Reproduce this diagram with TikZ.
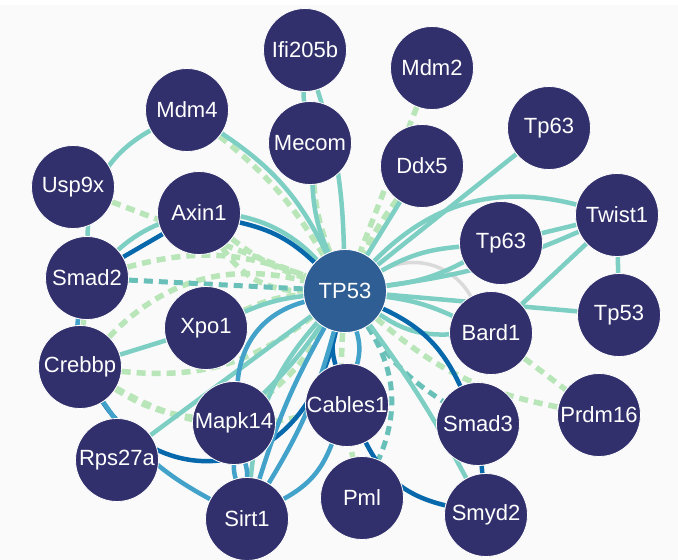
\documentclass[tikz,border=0pt]{standalone}
\usepackage{fontspec}
\setmainfont{Liberation Sans}
\usepackage{xcolor}
\usetikzlibrary{positioning}

\definecolor{genenavy}{RGB}{49,48,108}
\definecolor{hubblue}{RGB}{46,94,147}
\definecolor{tealline}{RGB}{125,207,196}
\definecolor{tealdash}{RGB}{104,192,184}
\definecolor{greendash}{RGB}{185,230,185}
\definecolor{darkline}{RGB}{8,104,172}
\definecolor{midline}{RGB}{67,162,202}
\definecolor{greyline}{RGB}{218,218,218}
\definecolor{paper}{RGB}{250,250,250}

\pgfdeclarelayer{back}
\pgfdeclarelayer{edges}
\pgfsetlayers{back,edges,main}

\begin{document}
\begin{tikzpicture}[x=1pt, y=-1pt,
    gene/.style={circle, draw=white, line width=0.8pt, fill=genenavy, minimum size=83pt, inner sep=0pt,
        text=white, font=\fontsize{22}{25}\selectfont},
    hub/.style={gene, fill=hubblue},
    teal/.style={draw=tealline, line width=4.5pt},
    tdash/.style={draw=tealdash, line width=5pt, dash pattern=on 9pt off 6pt},
    gdash/.style={draw=greendash, line width=5.5pt, dash pattern=on 9pt off 6pt},
    dblue/.style={draw=darkline, line width=4.5pt},
    mblue/.style={draw=midline, line width=4.5pt},
    grey/.style={draw=greyline, line width=3.5pt}]

    \useasboundingbox (0,0) rectangle (678,560);
    \begin{pgfonlayer}{back}
        \fill[paper] (0,5) rectangle (678,560);
    \end{pgfonlayer}

    % genes
    \node[hub] (tp53) at (345,291) {TP53};
    \node[gene] (ifi) at (305,50) {Ifi205b};
    \node[gene] (mdm2) at (432,68) {Mdm2};
    \node[gene] (mdm4) at (187,110) {Mdm4};
    \node[gene] (mecom) at (310,143) {Mecom};
    \node[gene] (tp63a) at (549,128) {Tp63};
    \node[gene] (ddx5) at (422,166) {Ddx5};
    \node[gene] (usp9x) at (73,187) {Usp9x};
    \node[gene] (axin1) at (199,213) {Axin1};
    \node[gene] (twist1) at (617,215) {Twist1};
    \node[gene] (tp63b) at (501,243) {Tp63};
    \node[gene] (smad2) at (87,278) {Smad2};
    \node[gene] (tp53r) at (619,315) {Tp53};
    \node[gene] (xpo1) at (206,328) {Xpo1};
    \node[gene] (bard1) at (491,333) {Bard1};
    \node[gene] (crebbp) at (80,367) {Crebbp};
    \node[gene] (cables1) at (347,405) {Cables1};
    \node[gene] (prdm16) at (599,415) {Prdm16};
    \node[gene] (mapk14) at (234,423) {Mapk14};
    \node[gene] (smad3) at (478,424) {Smad3};
    \node[gene] (rps27a) at (117,460) {Rps27a};
    \node[gene] (pml) at (362,498) {Pml};
    \node[gene] (smyd2) at (486,515) {Smyd2};
    \node[gene] (sirt1) at (247,519) {Sirt1};

    \begin{pgfonlayer}{edges}
    % dashed links
    \draw[gdash] (mdm2) -- (tp53);
    \draw[gdash] (ddx5) to[bend right=5] (tp53);
    \draw[gdash] (mecom) to[bend right=8] (tp53);
    \draw[gdash] (mdm4) to[bend left=10] (tp53);
    \draw[gdash] (usp9x) -- (tp53);
    \draw[gdash] (axin1) to[bend right=10] (tp53);
    \draw[gdash] (axin1) to[bend right=28] (tp53);
    \draw[gdash] (smad2) to[bend left=18] (tp53);
    \draw[gdash] (smad2) -- (crebbp);
    \draw[gdash] (crebbp) to[bend left=30] (tp53);
    \draw[gdash] (crebbp) to[bend right=22] (tp53);
    \draw[gdash] (crebbp) to[bend right=12] (mapk14);
    \draw[gdash] (crebbp) to[bend right=22] (cables1);
    \draw[gdash] (xpo1) to[bend left=10] (tp53);
    \draw[gdash] (mapk14) to[bend right=10] (tp53);
    \draw[gdash] (tp53) to[bend right=8] (pml);
    \draw[gdash] (tp53) to[bend right=15] (prdm16);
    \draw[gdash] (bard1) -- (prdm16);
    \draw[tdash] (smad2) -- (tp53);
    \draw[tdash] (tp53) to[bend right=12] (smad3);
    \draw[tdash] (tp53) to[bend left=28] (pml);
    % solid links
    \draw[grey] (tp53) to[bend left=45] (bard1);
    \draw[teal] (ifi) to[bend right=5] (mecom);
    \draw[teal] (ifi) to[bend left=8] (tp53);
    \draw[teal] (mecom) to[bend right=10] (tp53);
    \draw[teal] (mdm4) to[bend left=15] (tp53);
    \draw[teal] (mdm4) to[bend right=30] (smad2);
    \draw[teal] (smad2) to[bend left=45] (tp53);
    \draw[teal] (ddx5) -- (tp53);
    \draw[teal] (tp63a) -- (tp53);
    \draw[teal] (twist1) to[bend right=30] (tp53);
    \draw[teal] (twist1) to[bend left=8] (tp53);
    \draw[teal] (twist1) -- (tp63b);
    \draw[teal] (twist1) -- (tp53r);
    \draw[teal] (tp63b) to[bend left=10] (tp53);
    \draw[teal] (tp63b) to[bend right=12] (tp53);
    \draw[teal] (bard1) -- (twist1);
    \draw[teal] (tp53) -- (tp53r);
    \draw[teal] (tp53) to[bend left=8] (bard1);
    \draw[teal] (tp53) to[bend right=18] (bard1);
    \draw[teal] (tp53) to[bend left=4] (smyd2);
    \draw[teal] (crebbp) -- (xpo1);
    \draw[teal] (xpo1) to[bend left=8] (tp53);
    \draw[teal] (rps27a) -- (tp53);
    \draw[teal] (mapk14) to[bend right=5] (tp53);
    \draw[teal] (sirt1) to[bend left=18] (tp53);
    \draw[dblue] (axin1) -- (smad2);
    \draw[dblue] (axin1) to[bend left=15] (tp53);
    \draw[dblue] (crebbp) .. controls (160,490) and (300,490) .. (tp53);
    \draw[dblue] (cables1) to[bend left=15] (tp53);
    \draw[dblue] (cables1) to[bend right=25] (smyd2);
    \draw[dblue] (tp53) to[bend left=20] (smad3);
    \draw[dblue] (smad3) -- (smyd2);
    \draw[mblue] (smad2) to[bend right=8] (crebbp);
    \draw[mblue] (crebbp) to[bend right=14] (sirt1);
    \draw[mblue] (mapk14) to[bend left=35] (tp53);
    \draw[mblue] (mapk14) to[bend left=8] (sirt1);
    \draw[mblue] (mapk14) to[bend right=8] (sirt1);
    \draw[mblue] (sirt1) to[bend left=6] (tp53);
    \draw[mblue] (sirt1) to[bend right=8] (tp53);
    \draw[mblue] (sirt1) to[bend right=20] (cables1);
    \draw[mblue] (cables1) to[bend right=15] (tp53);
    \end{pgfonlayer}

\end{tikzpicture}
\end{document}
